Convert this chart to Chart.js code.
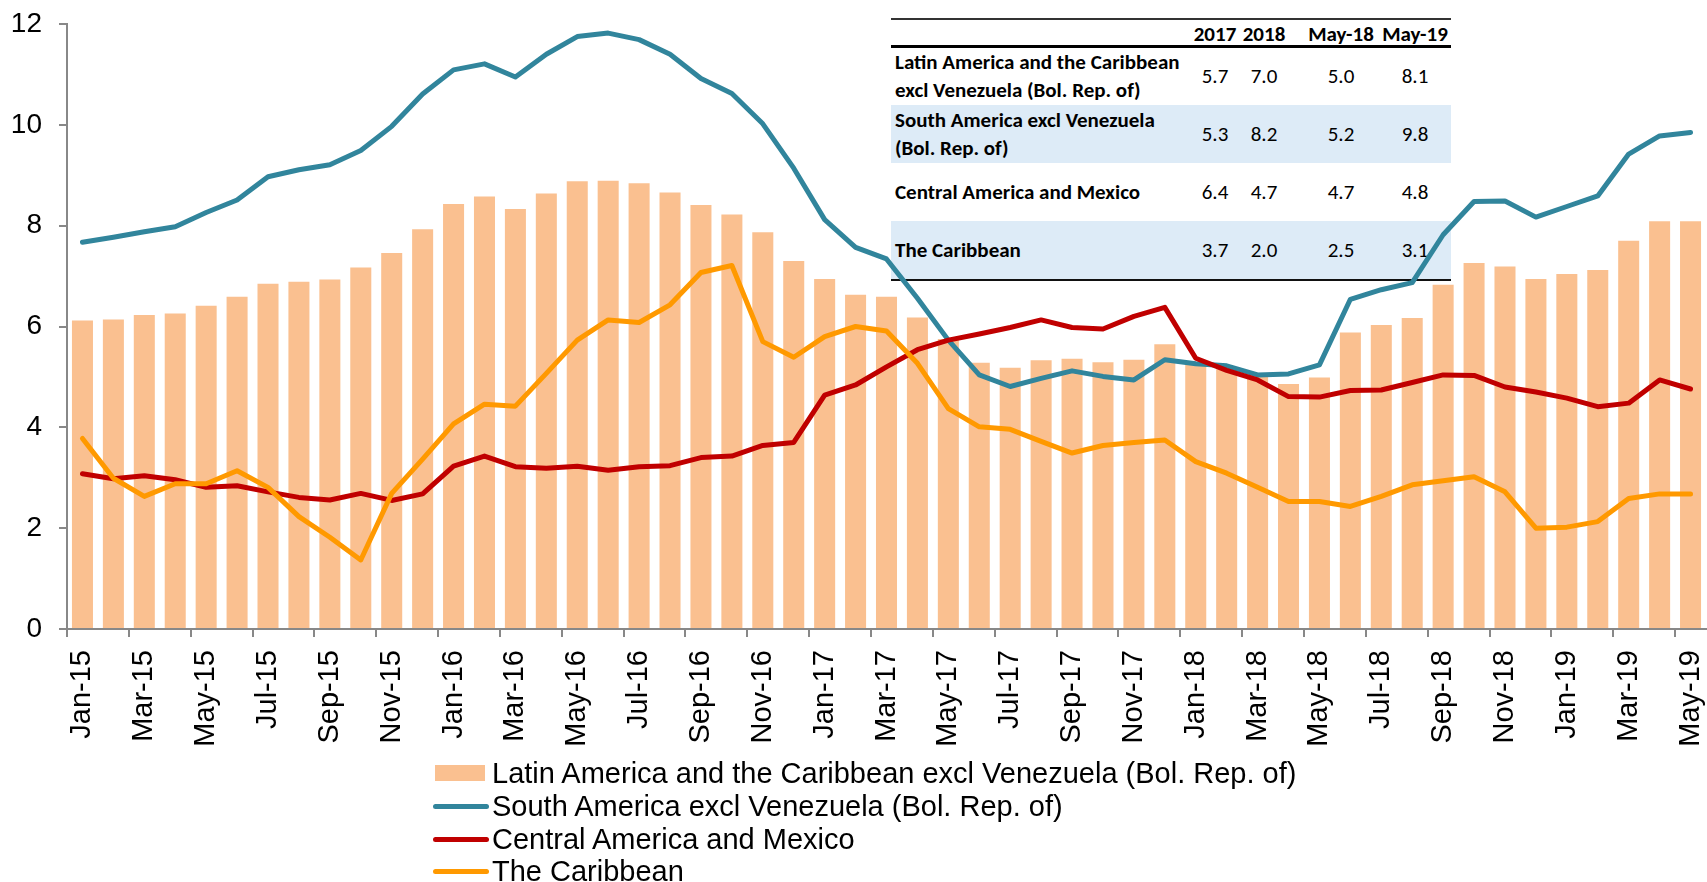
<!DOCTYPE html>
<html>
<head>
<meta charset="utf-8">
<script src="https://cdn.jsdelivr.net/npm/chart.js@4.4.1/dist/chart.umd.min.js"></script>
<style>
    body {
        margin: 0;
        width: 1707px;
        height: 882px;
        overflow: hidden;
        position: relative;
        background: #fff;
        font-family: 'Liberation Sans', Arial, sans-serif;
    }
    #chart { position: absolute; left: 0; top: 0; }
    #tbl { position: absolute; left: 0; top: 0; width: 1707px; height: 300px; }
    #tbl div { position: absolute; white-space: nowrap; color: #000; }
    .tcell {
        font-family: Carlito, 'Liberation Sans Narrow', 'Arial Narrow', 'Liberation Sans', sans-serif;
        font-size: 21px;
        line-height: 28.4px;
    }
    #legend div { position: absolute; white-space: nowrap; }
    .ltext { font-size: 29px; line-height: 33px; color: #000; }
</style>
</head>
<body>
<div id="tbl"></div>
<canvas id="chart" width="1707" height="882"></canvas>
<div id="legend"></div>
<script>
(function () {

    let months = [
        'Jan-15', 'Feb-15', 'Mar-15', 'Apr-15', 'May-15', 'Jun-15', 'Jul-15', 'Aug-15', 'Sep-15', 'Oct-15', 'Nov-15', 'Dec-15',
        'Jan-16', 'Feb-16', 'Mar-16', 'Apr-16', 'May-16', 'Jun-16', 'Jul-16', 'Aug-16', 'Sep-16', 'Oct-16', 'Nov-16', 'Dec-16',
        'Jan-17', 'Feb-17', 'Mar-17', 'Apr-17', 'May-17', 'Jun-17', 'Jul-17', 'Aug-17', 'Sep-17', 'Oct-17', 'Nov-17', 'Dec-17',
        'Jan-18', 'Feb-18', 'Mar-18', 'Apr-18', 'May-18', 'Jun-18', 'Jul-18', 'Aug-18', 'Sep-18', 'Oct-18', 'Nov-18', 'Dec-18',
        'Jan-19', 'Feb-19', 'Mar-19', 'Apr-19', 'May-19',
    ]

    let seriesNames = [
        'Latin America and the Caribbean excl Venezuela (Bol. Rep. of)',
        'South America excl Venezuela (Bol. Rep. of)',
        'Central America and Mexico',
        'The Caribbean',
    ]

    // bars
    let latinAmerica = [
        6.12, 6.14, 6.23, 6.26, 6.41, 6.59, 6.85, 6.89, 6.93, 7.17, 7.46, 7.93,
        8.43, 8.58, 8.33, 8.64, 8.88, 8.89, 8.84, 8.66, 8.41, 8.22, 7.87, 7.30,
        6.94, 6.63, 6.59, 6.18, 5.75, 5.28, 5.18, 5.33, 5.36, 5.29, 5.34, 5.65,
        5.25, 5.15, 5.05, 4.86, 4.99, 5.88, 6.03, 6.17, 6.83, 7.26, 7.19, 6.94,
        7.04, 7.12, 7.70, 8.09, 8.09,
    ]

    let southAmerica = [
        7.67, 7.77, 7.88, 7.98, 8.26, 8.51, 8.97, 9.11, 9.21, 9.49, 9.97, 10.61,
        11.09, 11.21, 10.95, 11.40, 11.75, 11.82, 11.69, 11.40, 10.92, 10.62, 10.02, 9.14,
        8.12, 7.57, 7.34, 6.56, 5.73, 5.04, 4.81, 4.97, 5.12, 5.01, 4.94, 5.34,
        5.26, 5.22, 5.04, 5.06, 5.24, 6.54, 6.73, 6.87, 7.82, 8.48, 8.49, 8.17,
        8.38, 8.59, 9.42, 9.78, 9.85,
    ]

    let centralAmerica = [
        3.08, 2.98, 3.04, 2.96, 2.81, 2.84, 2.72, 2.61, 2.56, 2.69, 2.55, 2.68,
        3.23, 3.43, 3.22, 3.19, 3.23, 3.15, 3.22, 3.24, 3.40, 3.43, 3.64, 3.70,
        4.64, 4.84, 5.20, 5.54, 5.73, 5.85, 5.98, 6.13, 5.98, 5.95, 6.20, 6.38,
        5.37, 5.13, 4.94, 4.61, 4.60, 4.73, 4.74, 4.89, 5.04, 5.03, 4.80, 4.70,
        4.58, 4.41, 4.48, 4.94, 4.76,
    ]

    let caribbean = [
        3.78, 2.99, 2.63, 2.88, 2.88, 3.14, 2.81, 2.23, 1.82, 1.37, 2.69, 3.37,
        4.07, 4.46, 4.42, 5.07, 5.73, 6.13, 6.08, 6.43, 7.07, 7.21, 5.70, 5.39,
        5.80, 6.00, 5.91, 5.27, 4.37, 4.01, 3.96, 3.72, 3.49, 3.64, 3.70, 3.75,
        3.32, 3.09, 2.81, 2.53, 2.53, 2.43, 2.63, 2.86, 2.94, 3.02, 2.72, 2.00,
        2.02, 2.13, 2.59, 2.68, 2.68,
    ]

    // inset table
    let tableHeads = ['2017', '2018', 'May-18', 'May-19']
    let tableRegions = [
        ['Latin America and the Caribbean', 'excl Venezuela (Bol. Rep. of)'],
        ['South America excl Venezuela', '(Bol. Rep. of)'],
        ['Central America and Mexico'],
        ['The Caribbean'],
    ]
    let values2017 = [5.7, 5.3, 6.4, 3.7]
    let values2018 = [7.0, 8.2, 4.7, 2.0]
    let valuesMay18 = [5.0, 5.2, 4.7, 2.5]
    let valuesMay19 = [8.1, 9.8, 4.8, 3.1]

    let colors = ['#FAC090', '#31859C', '#C00000', '#FF9900']

    // ---- table (sits behind the canvas, lines draw over it)
    let tbl = document.getElementById('tbl')
    let tLeft = 891, tRight = 1451
    let colCenters = [1215, 1264, 1341, 1415]
    let rowTops = [47, 105, 163, 221]
    let rowH = 58

    function addDiv(parent, css, html, cls) {
        let d = document.createElement('div')
        d.style.cssText = css
        if (cls) d.className = cls
        if (html !== undefined) d.innerHTML = html
        parent.appendChild(d)
        return d
    }

    rowTops.forEach((top, i) => {
        if (i % 2 === 1) {
            addDiv(tbl, `left:${tLeft}px;top:${top}px;width:${tRight - tLeft}px;height:${rowH}px;background:#DDEBF7;`)
        }
    })
    addDiv(tbl, `left:${tLeft}px;top:18px;width:${tRight - tLeft}px;height:2px;background:#333;`)
    addDiv(tbl, `left:${tLeft}px;top:45px;width:${tRight - tLeft}px;height:2.5px;background:#000;`)
    addDiv(tbl, `left:${tLeft}px;top:279px;width:${tRight - tLeft}px;height:2px;background:#111;`)

    tableHeads.forEach((h, j) => {
        addDiv(tbl, `left:${colCenters[j] - 45}px;top:20px;width:90px;text-align:center;font-weight:bold;`, h, 'tcell')
    })

    let cols = [values2017, values2018, valuesMay18, valuesMay19]
    tableRegions.forEach((lines, i) => {
        let top = rowTops[i]
        let h = lines.length * 28.4
        addDiv(tbl, `left:895px;top:${top + (rowH - h) / 2}px;font-weight:bold;`, lines.join('<br>'), 'tcell')
        cols.forEach((col, j) => {
            addDiv(tbl, `left:${colCenters[j] - 40}px;top:${top + (rowH - 28.4) / 2}px;width:80px;text-align:center;`,
                col[i].toFixed(1), 'tcell')
        })
    })

    // ---- legend
    let legend = document.getElementById('legend')
    let legendCenters = [773, 806.5, 839, 871.5]
    seriesNames.forEach((name, i) => {
        let cy = legendCenters[i]
        if (i === 0) {
            addDiv(legend, `left:435px;top:${cy - 8}px;width:50px;height:16px;background:${colors[0]};`)
        } else {
            addDiv(legend, `left:433px;top:${cy - 2.5}px;width:56px;height:5px;border-radius:3px;background:${colors[i]};`)
        }
        addDiv(legend, `left:492px;top:${cy - 16.5}px;`, name, 'ltext')
    })

    // ---- chart
    let lineStyle = {
        type: 'line',
        borderWidth: 5,
        pointRadius: 0,
        tension: 0,
        borderJoinStyle: 'round',
        borderCapStyle: 'round',
    }

    new Chart(
        document.getElementById('chart'),
        {
            data: {
                labels: months,
                datasets: [
                    {
                        type: 'bar',
                        label: seriesNames[0],
                        data: latinAmerica,
                        backgroundColor: colors[0],
                        barPercentage: 0.68,
                        categoryPercentage: 1,
                        order: 4,
                    },
                    {...lineStyle, label: seriesNames[1], data: southAmerica, borderColor: colors[1], order: 3},
                    {...lineStyle, label: seriesNames[2], data: centralAmerica, borderColor: colors[2], order: 2},
                    {...lineStyle, label: seriesNames[3], data: caribbean, borderColor: colors[3], order: 1},
                ],
            },
            options: {
                responsive: false,
                animation: false,
                layout: {padding: {top: 24, right: 1, left: 0, bottom: 0}},
                plugins: {
                    legend: {display: false},
                    tooltip: {enabled: false},
                },
                scales: {
                    x: {
                        offset: true,
                        grid: {
                            offset: true,
                            drawOnChartArea: false,
                            tickLength: 8,
                            lineWidth: 2,
                            color: (ctx) => ctx.index % 2 === 0 ? '#888' : 'rgba(0,0,0,0)',
                        },
                        border: {color: '#888', width: 2},
                        ticks: {
                            autoSkip: false,
                            minRotation: 90,
                            maxRotation: 90,
                            padding: 13,
                            color: '#000',
                            font: {family: "'Liberation Sans', Arial", size: 29},
                            callback: (v, i) => i % 2 === 0 ? months[i] : '',
                        },
                        afterFit(scale) {
                            scale.height = 253
                            scale.paddingLeft = 0
                            scale.paddingRight = 0
                        },
                    },
                    y: {
                        min: 0,
                        max: 12,
                        ticks: {
                            stepSize: 2,
                            padding: 17,
                            color: '#000',
                            font: {family: "'Liberation Sans', Arial", size: 28},
                        },
                        grid: {
                            drawOnChartArea: false,
                            tickLength: 8,
                            lineWidth: 2,
                            color: '#888',
                        },
                        border: {color: '#888', width: 2},
                        afterFit(scale) {
                            scale.width = 67
                            scale.paddingTop = 0
                            scale.paddingBottom = 0
                        },
                    },
                },
            },
        },
    )
})()
</script>
</body>
</html>
